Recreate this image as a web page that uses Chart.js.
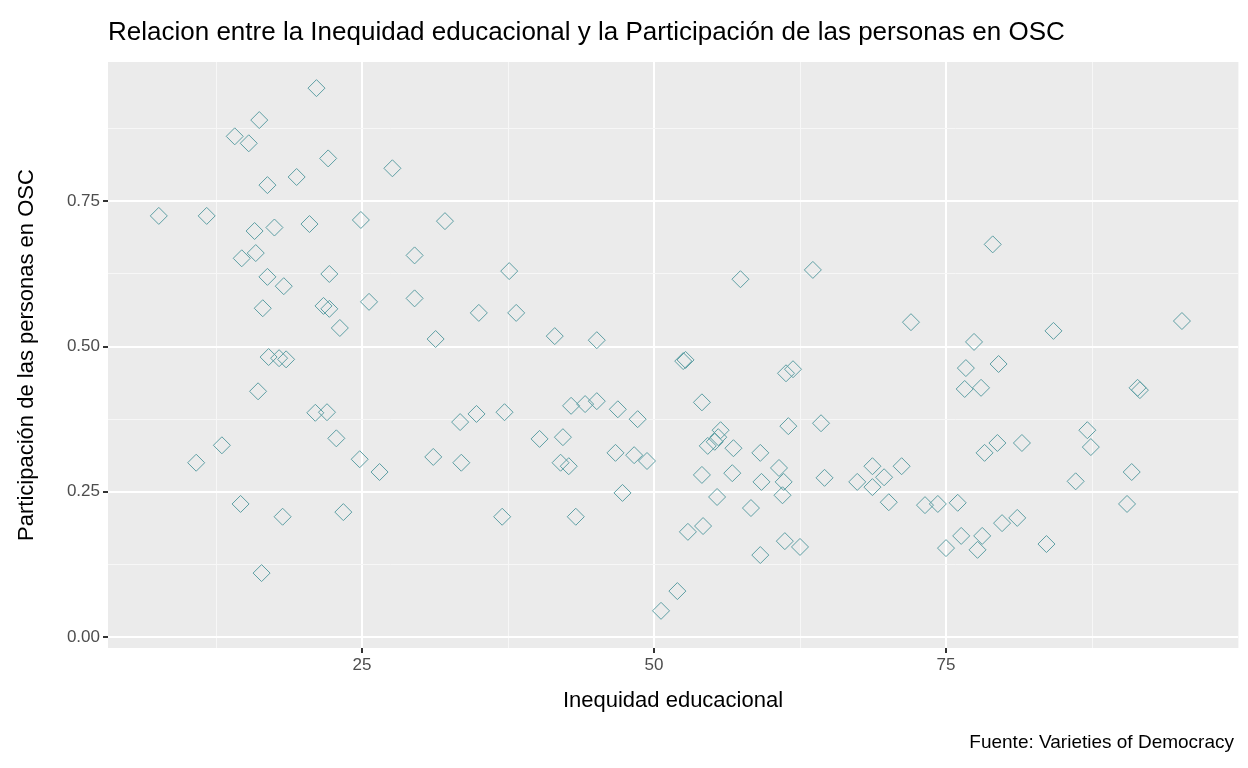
<!DOCTYPE html>
<html>
<head>
<meta charset="utf-8">
<script src="https://cdn.jsdelivr.net/npm/chart.js@4.4.0/dist/chart.umd.min.js"></script>
<style>
  html, body { margin: 0; padding: 0; background: #fff; }
  #wrap { width: 1248px; height: 768px; }
</style>
</head>
<body>
<div id="wrap"><canvas id="c"></canvas></div>
<script>
// Inequidad educacional (x) vs Participación en OSC (y)
const inequidad = [7.6, 11.7, 10.8, 13.0, 14.1, 15.3, 16.2, 14.7, 15.8, 15.9, 16.9, 16.9, 16.5, 17.0, 16.1, 14.6, 16.4, 18.2,
  17.5, 18.3, 17.9, 18.5, 19.4, 21.1, 22.1, 20.5, 22.2, 21.7, 22.2, 23.1, 21.0, 22.0, 22.8, 23.4, 24.9, 25.6, 24.8, 26.5,
  27.6, 29.5, 29.5, 32.1, 31.3, 31.1, 33.4, 33.5, 35.0, 34.8, 37.6, 38.2, 37.2, 37.0, 41.5, 40.2, 42.2, 42.0, 42.7, 42.9,
  44.1, 45.1, 45.1, 43.3, 46.9, 46.7, 47.3, 48.6, 48.3, 49.4, 50.6, 52.0, 52.5, 52.7, 52.9, 54.1, 54.1, 54.2, 54.6, 55.2,
  55.7, 55.5, 55.4, 56.7, 56.8, 57.4, 58.3, 59.1, 59.2, 59.1, 60.7, 61.0, 61.1, 61.2, 61.3, 61.9, 61.5, 62.5, 63.6, 64.3,
  64.6, 67.4, 68.7, 68.7, 69.7, 70.1, 72.0, 71.2, 73.2, 74.3, 75.0, 76.0, 76.3, 76.7, 76.6, 77.4, 77.7, 78.1, 78.0, 78.3,
  79.0, 79.5, 79.4, 79.8, 81.1, 81.5, 83.6, 84.2, 87.1, 87.4, 86.1, 91.4, 91.6, 90.9, 90.5, 95.2];
const participacion = [0.725, 0.725, 0.30, 0.33, 0.862, 0.85, 0.89, 0.652, 0.699, 0.661, 0.778, 0.62, 0.566, 0.482, 0.423, 0.229, 0.11, 0.207,
  0.705, 0.604, 0.48, 0.478, 0.792, 0.945, 0.824, 0.711, 0.625, 0.57, 0.565, 0.532, 0.386, 0.387, 0.342, 0.215, 0.718, 0.577, 0.306, 0.284,
  0.807, 0.657, 0.583, 0.716, 0.513, 0.31, 0.37, 0.30, 0.558, 0.384, 0.63, 0.558, 0.387, 0.207, 0.518, 0.341, 0.344, 0.30, 0.294, 0.398,
  0.401, 0.406, 0.511, 0.207, 0.392, 0.317, 0.248, 0.375, 0.313, 0.303, 0.045, 0.079, 0.475, 0.477, 0.181, 0.404, 0.279, 0.191, 0.329, 0.336,
  0.356, 0.344, 0.241, 0.282, 0.325, 0.616, 0.222, 0.317, 0.267, 0.141, 0.291, 0.244, 0.267, 0.165, 0.454, 0.461, 0.363, 0.155, 0.632, 0.368,
  0.274, 0.267, 0.294, 0.258, 0.275, 0.232, 0.542, 0.294, 0.227, 0.229, 0.153, 0.231, 0.174, 0.463, 0.427, 0.508, 0.15, 0.174, 0.429, 0.317,
  0.676, 0.47, 0.334, 0.196, 0.205, 0.334, 0.16, 0.527, 0.356, 0.327, 0.268, 0.429, 0.425, 0.284, 0.229, 0.544];
const xTicks = [12.5, 25, 37.5, 50, 62.5, 75, 87.5, 100];
const yTicks = [0, 0.125, 0.25, 0.375, 0.5, 0.625, 0.75, 0.875];
const xLabels = { 25: '25', 50: '50', 75: '75' };
const yLabels = { 0: '0.00', 0.25: '0.25', 0.5: '0.50', 0.75: '0.75' };

const points = inequidad.map((x, i) => ({ x: x, y: participacion[i] }));
const isMajor = (v, labels) => labels[v] !== undefined;

const panel = {
  id: 'panel',
  beforeDraw(chart) {
    const a = chart.chartArea, ctx = chart.ctx;
    ctx.save();
    ctx.fillStyle = '#ebebeb';
    ctx.fillRect(a.left, a.top, a.right - a.left, a.bottom - a.top);
    ctx.restore();
  },
  afterDraw(chart) {
    const ctx = chart.ctx;
    ctx.save();
    ctx.fillStyle = '#000';
    ctx.textBaseline = 'alphabetic';
    ctx.font = '26px "Liberation Sans", Arial, sans-serif';
    ctx.textAlign = 'left';
    ctx.fillText('Relacion entre la Inequidad educacional y la Participación de las personas en OSC', 108, 40);
    ctx.font = '19px "Liberation Sans", Arial, sans-serif';
    ctx.textAlign = 'right';
    ctx.fillText('Fuente: Varieties of Democracy', 1234, 748);
    ctx.restore();
  }
};

new Chart(document.getElementById('c'), {
  type: 'scatter',
  data: {
    datasets: [{
      data: points,
      pointStyle: 'rectRot',
      pointRadius: 8.5,
      pointBorderWidth: 1,
      borderColor: '#5e9fa4',
      backgroundColor: 'rgba(0,0,0,0)'
    }]
  },
  options: {
    responsive: true,
    maintainAspectRatio: false,
    animation: false,
    layout: { padding: { top: 62, left: 10, right: 10, bottom: 50 } },
    plugins: { legend: { display: false }, tooltip: { enabled: false } },
    scales: {
      x: {
        type: 'linear', min: 3.25, max: 100,
        afterBuildTicks: s => { s.ticks = xTicks.map(v => ({ value: v })); },
        afterFit: s => { s.height = 70; },
        border: { display: false },
        grid: {
          color: c => isMajor(c.tick.value, xLabels) ? '#ffffff' : '#f7f7f7',
          lineWidth: c => isMajor(c.tick.value, xLabels) ? 2 : 1,
          tickColor: c => isMajor(c.tick.value, xLabels) ? '#333333' : 'rgba(0,0,0,0)',
          tickLength: 5
        },
        ticks: {
          color: '#4d4d4d', font: { size: 17, family: '"Liberation Sans", Arial' }, maxRotation: 0, padding: 2,
          callback: v => xLabels[v] || ''
        },
        title: { display: true, text: 'Inequidad educacional', color: '#000', font: { size: 22, family: '"Liberation Sans", Arial' }, padding: { top: 4 } }
      },
      y: {
        type: 'linear', min: -0.019, max: 0.99,
        afterBuildTicks: s => { s.ticks = yTicks.map(v => ({ value: v })); },
        afterFit: s => { s.width = 98; },
        border: { display: false },
        grid: {
          color: c => isMajor(c.tick.value, yLabels) ? '#ffffff' : '#f7f7f7',
          lineWidth: c => isMajor(c.tick.value, yLabels) ? 2 : 1,
          tickColor: c => isMajor(c.tick.value, yLabels) ? '#333333' : 'rgba(0,0,0,0)',
          tickLength: 5
        },
        ticks: {
          color: '#4d4d4d', font: { size: 17, family: '"Liberation Sans", Arial' }, padding: 3,
          callback: v => yLabels[v] || ''
        },
        title: { display: true, text: 'Participación de las personas en OSC', color: '#000', font: { size: 22, family: '"Liberation Sans", Arial' }, padding: { bottom: 6 } }
      }
    }
  },
  plugins: [panel]
});
</script>
</body>
</html>
